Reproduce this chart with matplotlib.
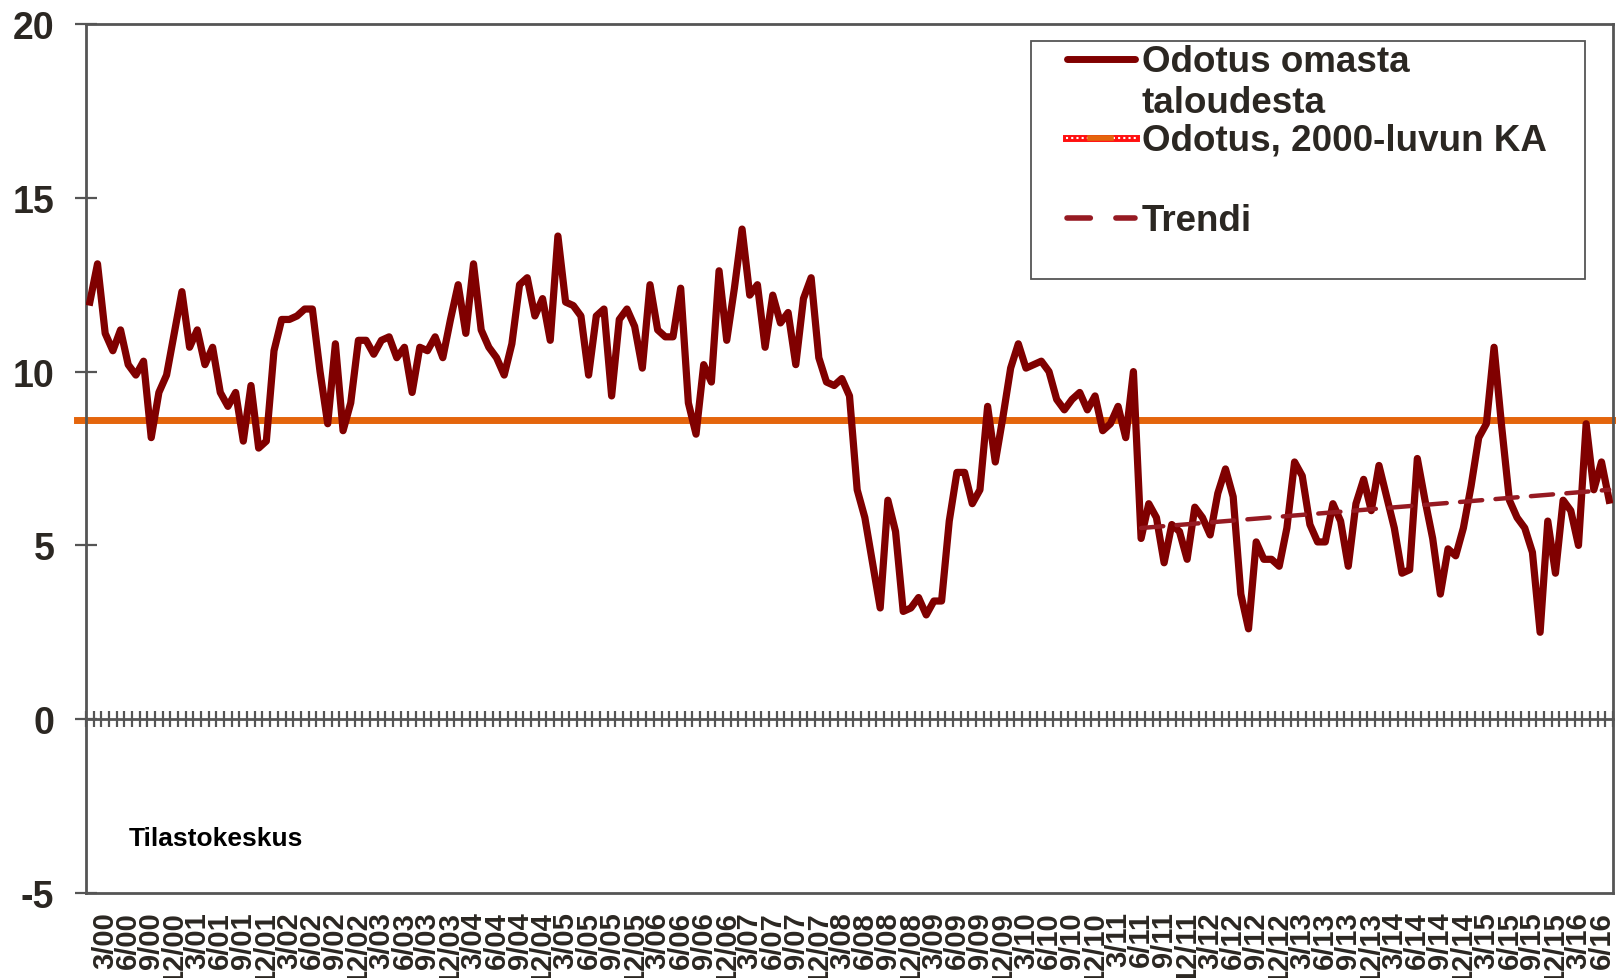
import matplotlib
matplotlib.use("Agg")
import matplotlib.pyplot as plt
from matplotlib.lines import Line2D
from matplotlib.patches import Rectangle
import numpy as np

plt.rcParams['font.family'] = ['Liberation Sans', 'DejaVu Sans']
plt.rcParams['axes.unicode_minus'] = False

# monthly series, 1/2000 ... 7/2016
start_year = 2000
odotus = [12.0, 13.1, 11.1, 10.6, 11.2, 10.2, 9.9, 10.3, 8.1, 9.4, 9.9, 11.1,
          12.3, 10.7, 11.2, 10.2, 10.7, 9.4, 9.0, 9.4, 8.0, 9.6, 7.8, 8.0,
          10.6, 11.5, 11.5, 11.6, 11.8, 11.8, 10.0, 8.5, 10.8, 8.3, 9.1, 10.9,
          10.9, 10.5, 10.9, 11.0, 10.4, 10.7, 9.4, 10.7, 10.6, 11.0, 10.4, 11.5,
          12.5, 11.1, 13.1, 11.2, 10.7, 10.4, 9.9, 10.8, 12.5, 12.7, 11.6, 12.1,
          10.9, 13.9, 12.0, 11.9, 11.6, 9.9, 11.6, 11.8, 9.3, 11.5, 11.8, 11.3,
          10.1, 12.5, 11.2, 11.0, 11.0, 12.4, 9.1, 8.2, 10.2, 9.7, 12.9, 10.9,
          12.4, 14.1, 12.2, 12.5, 10.7, 12.2, 11.4, 11.7, 10.2, 12.1, 12.7, 10.4,
          9.7, 9.6, 9.8, 9.3, 6.6, 5.8, 4.5, 3.2, 6.3, 5.4, 3.1, 3.2,
          3.5, 3.0, 3.4, 3.4, 5.7, 7.1, 7.1, 6.2, 6.6, 9.0, 7.4, 8.7,
          10.1, 10.8, 10.1, 10.2, 10.3, 10.0, 9.2, 8.9, 9.2, 9.4, 8.9, 9.3,
          8.3, 8.5, 9.0, 8.1, 10.0, 5.2, 6.2, 5.8, 4.5, 5.6, 5.4, 4.6,
          6.1, 5.8, 5.3, 6.5, 7.2, 6.4, 3.6, 2.6, 5.1, 4.6, 4.6, 4.4,
          5.5, 7.4, 7.0, 5.6, 5.1, 5.1, 6.2, 5.7, 4.4, 6.2, 6.9, 6.0,
          7.3, 6.4, 5.5, 4.2, 4.3, 7.5, 6.3, 5.2, 3.6, 4.9, 4.7, 5.5,
          6.7, 8.1, 8.5, 10.7, 8.4, 6.3, 5.8, 5.5, 4.8, 2.5, 5.7, 4.2,
          6.3, 6.0, 5.0, 8.5, 6.6, 7.4, 6.3]
ka_2000 = 8.6
trend_idx = [137, 198]        # 6/2011 -> 7/2016
trend_val = [5.5, 6.6]

n = len(odotus)
months = [(start_year + i // 12, i % 12 + 1) for i in range(n)]
lab_pos = [i for i, (y, m) in enumerate(months) if m % 3 == 0]
lab_txt = ["%d/%02d" % (months[i][1], months[i][0] % 100) for i in lab_pos]

W, H = 1616, 979
fig = plt.figure(figsize=(W / 100, H / 100), dpi=100)
ax = fig.add_axes([86 / W, 1 - 894 / H, (1613 - 86) / W, (894 - 25) / H])

txtc = '#2b2722'
axc = '#555555'

x = np.arange(n)
ax.axhline(ka_2000, xmin=-0.006, xmax=1, color='#e4650c', lw=5, clip_on=False, zorder=2)
ax.plot(x, odotus, color='#800000', lw=5.2, solid_joinstyle='round', zorder=3)
ax.plot(trend_idx, trend_val, color='#961a22', lw=3.2, linestyle=(0, (5, 3)),
        dash_capstyle='round', zorder=4)

ax.set_xlim(-0.5, n - 0.5)
ax.set_ylim(-5, 20)
ax.set_yticks(range(-5, 21, 5))
ax.tick_params(axis='y', direction='inout', length=15.6, width=1.6, color=axc,
               pad=15, labelsize=27, labelcolor=txtc)
for t in ax.get_yticklabels():
    t.set_fontweight('bold')

ax.set_xticks(lab_pos, lab_txt, rotation=90, fontsize=21, fontweight='bold', color=txtc)
ax.tick_params(axis='x', length=0, pad=13)

for s in ax.spines.values():
    s.set_color(axc)
    s.set_linewidth(2)

# category axis crossing at zero
sec = ax.secondary_xaxis(0.2)
sec.set_xticks(np.arange(-0.5, n, 1))
sec.tick_params(direction='inout', length=11, width=1.6, color=axc, labelbottom=False)
sec.spines['bottom'].set_color(axc)
sec.spines['bottom'].set_linewidth(2)

# legend drawn by hand
def fx(px):
    return px / W

def fy(py):
    return 1 - py / H

fig.add_artist(Rectangle((fx(1031), fy(280)), fx(1585) - fx(1031), fy(42) - fy(280),
                         transform=fig.transFigure, facecolor='white', edgecolor=axc, lw=1.3))
fig.add_artist(Line2D([fx(1067), fx(1135)], [fy(60), fy(60)], transform=fig.transFigure,
                      color='#800000', lw=5, solid_capstyle='round'))
fig.add_artist(Line2D([fx(1066), fx(1136)], [fy(139), fy(139)], transform=fig.transFigure,
                      color='#ff1010', lw=5))
fig.add_artist(Line2D([fx(1066), fx(1136)], [fy(139), fy(139)], transform=fig.transFigure,
                      color='white', lw=1.5, linestyle=(0, (1, 1.5))))
fig.add_artist(Line2D([fx(1090), fx(1111)], [fy(139), fy(139)], transform=fig.transFigure,
                      color='#e4650c', lw=4))
fig.add_artist(Line2D([fx(1067), fx(1135)], [fy(219), fy(219)], transform=fig.transFigure,
                      color='#961a22', lw=4, linestyle=(0, (4.2, 4.6)), dash_capstyle='round'))

leg_kw = dict(fontsize=26.5, fontweight='bold', color=txtc, va='baseline', ha='left')
fig.text(fx(1142), fy(72), 'Odotus omasta', **leg_kw)
fig.text(fx(1142), fy(113), 'taloudesta', **leg_kw)
fig.text(fx(1142), fy(151), 'Odotus, 2000-luvun KA', **leg_kw)
fig.text(fx(1142), fy(231), 'Trendi', **leg_kw)

fig.text(fx(129), fy(846), 'Tilastokeskus', fontsize=19, fontweight='bold',
         color='black', va='baseline', ha='left')

fig.savefig('out.png', dpi=100)
